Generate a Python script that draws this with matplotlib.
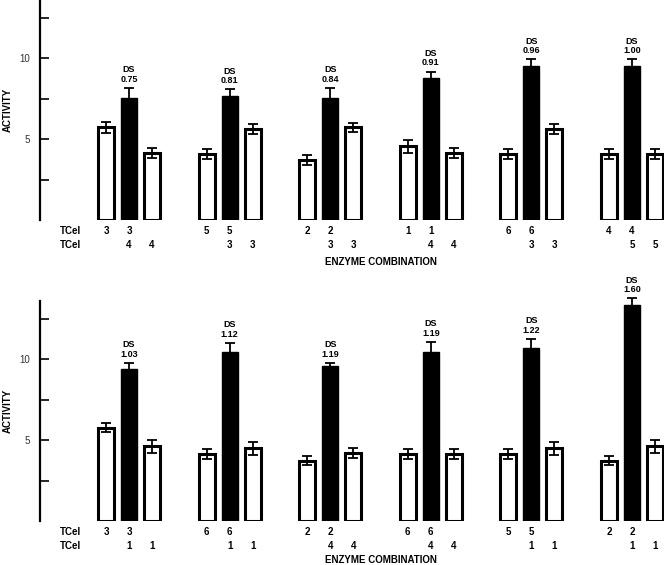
import matplotlib
matplotlib.use("Agg")
import matplotlib.pyplot as plt
import numpy as np

plt.rcParams["font.family"] = ["Liberation Sans", "DejaVu Sans"]

# top panel
top_ds = ["0.75", "0.81", "0.84", "0.91", "0.96", "1.00"]
top_row1 = ["3", "5", "2", "1", "6", "4"]
top_row2 = ["4", "3", "3", "4", "3", "5"]
top_white1 = [5.72, 4.07, 3.70, 4.57, 4.07, 4.07]
top_white1_err = [0.33, 0.30, 0.30, 0.40, 0.30, 0.30]
top_black = [7.55, 7.67, 7.55, 8.77, 9.55, 9.55]
top_black_err = [0.62, 0.40, 0.62, 0.40, 0.40, 0.40]
top_white2 = [4.15, 5.62, 5.72, 4.15, 5.62, 4.07]
top_white2_err = [0.30, 0.30, 0.30, 0.30, 0.30, 0.30]

# bottom panel
bot_ds = ["1.03", "1.12", "1.19", "1.19", "1.22", "1.60"]
bot_row1 = ["3", "6", "2", "6", "5", "2"]
bot_row2 = ["1", "1", "4", "4", "1", "1"]
bot_white1 = [5.78, 4.13, 3.74, 4.13, 4.13, 3.74]
bot_white1_err = [0.30, 0.30, 0.30, 0.30, 0.30, 0.30]
bot_black = [9.42, 10.43, 9.57, 10.46, 10.68, 13.37]
bot_black_err = [0.35, 0.58, 0.20, 0.62, 0.58, 0.41]
bot_white2 = [4.63, 4.50, 4.22, 4.13, 4.50, 4.63]
bot_white2_err = [0.40, 0.40, 0.30, 0.30, 0.40, 0.40]

W, H = 664, 565
FIRST = 3.87     # first black bar centre, in bar-spacing units from the spine
GROUP = 4.374    # distance between groups
BAR_W = 0.7
YMAX = 13.6
TXT = 7


def draw_panel(ax, white1, w1e, black, be, white2, w2e, ds, row1, row2, title_y):
    n = len(black)
    centers = FIRST + GROUP * np.arange(n)
    x1, x2 = centers - 1, centers + 1

    err_kw = dict(fmt="none", ecolor="black", elinewidth=1.3, capsize=3.5,
                  capthick=1.3, zorder=4, clip_on=False)
    ax.bar(x1, white1, BAR_W, color="white", edgecolor="black", linewidth=2.2, zorder=2)
    ax.bar(centers, black, BAR_W, color="black", edgecolor="black", linewidth=1, zorder=2)
    ax.bar(x2, white2, BAR_W, color="white", edgecolor="black", linewidth=2.2, zorder=2)
    ax.errorbar(x1, white1, yerr=w1e, **err_kw)
    ax.errorbar(centers, black, yerr=be, **err_kw)
    ax.errorbar(x2, white2, yerr=w2e, **err_kw)

    for c, v, e, d in zip(centers, black, be, ds):
        ax.annotate("DS\n" + d, (c, v + e), xytext=(0, 3), textcoords="offset points",
                    ha="center", va="bottom", fontsize=6.5, fontweight="bold",
                    linespacing=1.05, annotation_clip=False)

    y1, y2 = -0.68, -1.55
    ax.text(0.87, y1, "TCel", ha="left", va="center", fontsize=TXT, fontweight="bold")
    ax.text(0.87, y2, "TCel", ha="left", va="center", fontsize=TXT, fontweight="bold")
    for i in range(n):
        ax.text(x1[i], y1, row1[i], ha="center", va="center", fontsize=TXT, fontweight="bold")
        ax.text(centers[i], y1, row1[i], ha="center", va="center", fontsize=TXT, fontweight="bold")
        ax.text(centers[i], y2, row2[i], ha="center", va="center", fontsize=TXT, fontweight="bold")
        ax.text(x2[i], y2, row2[i], ha="center", va="center", fontsize=TXT, fontweight="bold")
    ax.text(centers.mean(), title_y, "ENZYME COMBINATION", ha="center", va="center",
            fontsize=TXT, fontweight="bold")

    ax.set_xlim(0, (W - 40) / 23)
    ax.set_ylim(0, YMAX)
    for s in ["top", "right", "bottom"]:
        ax.spines[s].set_visible(False)
    ax.spines["left"].set_linewidth(1.6)
    ax.set_xticks([])
    ax.set_yticks([2.5, 5, 7.5, 10, 12.5])
    ax.set_yticklabels(["", "5", "", "10", ""])
    ax.tick_params(axis="y", direction="in", length=6.5, width=1.2, pad=7,
                   labelsize=7, labelcolor="#333333")
    ax.set_ylabel("ACTIVITY", fontsize=TXT, fontweight="bold", labelpad=5)


fig = plt.figure(figsize=(W / 100, H / 100), dpi=100)
ax_h = 220 / H
ax_top = fig.add_axes([40 / W, (H - 220) / H, (W - 40) / W, ax_h])
ax_bot = fig.add_axes([40 / W, (H - 521) / H, (W - 40) / W, ax_h])

draw_panel(ax_top, top_white1, top_white1_err, top_black, top_black_err,
           top_white2, top_white2_err, top_ds, top_row1, top_row2, -2.58)
draw_panel(ax_bot, bot_white1, bot_white1_err, bot_black, bot_black_err,
           bot_white2, bot_white2_err, bot_ds, bot_row1, bot_row2, -2.42)

fig.savefig("out.png", dpi=100)
